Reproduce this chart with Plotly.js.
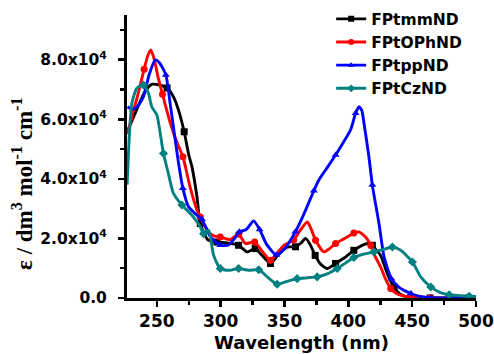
<!DOCTYPE html>
<html>
<head>
<meta charset="utf-8">
<script src="https://cdn.plot.ly/plotly-3.0.1.min.js"></script>
<style>
  html, body { margin: 0; padding: 0; background: #fff; }
  #chart { width: 494px; height: 354px; }
</style>
</head>
<body>
<div id="chart"></div>
<script>
// Absorption spectra (molar extinction coefficient, in units of 1e4 dm3 mol-1 cm-1)
const seriesNames = ['FPtmmND', 'FPtOPhND', 'FPtppND', 'FPtCzND'];

const tmmX = [227, 232, 237, 241, 246, 252, 258, 263, 267, 271.4, 275, 277.5, 281.4, 284, 290, 297, 305, 314, 320.6, 327, 332, 339, 345, 352, 358.6, 363, 366.5, 370, 374, 378, 383.5, 390, 397, 404.3, 410, 414.9, 418.8, 422, 425.3, 430.5, 435.8, 440, 446, 449, 464, 479, 494, 500];
const tmmY = [5.6, 6.1, 6.6, 6.95, 7.17, 7.15, 7.05, 6.75, 6.3, 5.58, 4.8, 4.4, 3.4, 2.5, 1.95, 1.88, 1.85, 1.77, 1.55, 1.66, 1.45, 1.16, 1.45, 1.71, 1.72, 1.85, 2.0, 1.8, 1.43, 1.15, 0.99, 1.16, 1.35, 1.6, 1.75, 1.83, 1.77, 1.6, 1.43, 0.82, 0.37, 0.15, 0.03, 0.01, 0.0, 0.0, 0.0, 0.0];
const tmmMarks = [258, 271.4, 284, 297, 314, 327, 339, 358.6, 374, 390, 404.3, 418.8, 435.8, 449, 464, 479, 494];

const ophX = [227, 230.7, 235, 240, 243, 245.3, 248, 251, 254.4, 260, 265, 270.4, 276, 281.4, 284, 290.5, 295, 299.7, 307.5, 314, 319.3, 326.6, 332, 339, 344, 349.4, 357.2, 362, 367.8, 371, 374.3, 380.8, 385, 390, 397, 404.3, 408.3, 413.5, 417.5, 421, 425.3, 429, 433.2, 438, 443.7, 449, 464, 479, 494, 500];
const ophY = [5.5, 6.14, 6.8, 7.68, 8.15, 8.33, 8.0, 7.4, 6.84, 5.95, 5.3, 4.74, 3.73, 2.95, 2.72, 2.22, 2.08, 2.05, 1.96, 2.14, 1.83, 1.88, 1.6, 1.27, 1.5, 1.77, 1.95, 2.25, 2.55, 2.3, 1.94, 1.55, 1.65, 1.83, 2.0, 2.18, 2.22, 2.05, 1.77, 1.4, 1.04, 0.65, 0.32, 0.14, 0.06, 0.03, 0.0, 0.0, 0.0, 0.0];
const ophMarks = [240, 254.4, 270.4, 284, 299.7, 314, 326.6, 339, 357.2, 374.3, 390, 404.3, 417.5, 433.2, 449, 464, 479, 494];

const ppX = [227, 230, 233, 236, 239.5, 244, 248.7, 252, 257, 260.5, 264.4, 267, 270.4, 274.8, 281.4, 285.3, 292, 299.7, 306, 310, 314.6, 320, 325.8, 330.5, 336, 343.7, 350, 358.5, 365, 373, 376.9, 383, 390, 394, 401.7, 405.7, 408.3, 410.5, 412.3, 416.1, 418.8, 424, 428, 433.7, 440, 449, 456, 464.6, 480, 494, 500];
const ppY = [6.42, 6.35, 6.37, 6.5, 6.76, 7.5, 7.99, 7.9, 7.49, 6.5, 5.3, 4.52, 3.68, 3.06, 2.78, 2.64, 2.05, 1.77, 1.78, 1.95, 2.22, 2.3, 2.59, 2.3, 1.8, 1.44, 1.65, 2.22, 2.8, 3.6, 3.96, 4.35, 4.8, 5.08, 5.64, 6.2, 6.42, 6.3, 5.86, 4.74, 3.79, 2.5, 1.38, 0.65, 0.35, 0.15, 0.05, 0.01, 0.0, 0.0, 0.0];
const ppMarks = [257, 270.4, 285.3, 299.7, 314.6, 330.5, 343.7, 358.5, 373, 390, 405.7, 418.8, 433.7, 449, 464.6, 480, 494];

const czX = [226.7, 228.5, 230.4, 234.3, 239.5, 243.4, 246, 250, 252, 255.2, 259, 263, 269.6, 277.5, 284, 286.6, 290.5, 292.5, 294.4, 299.7, 307, 314, 322, 329.8, 336.4, 344.2, 352, 359.9, 368, 375.6, 384, 391.3, 398, 404.3, 412, 420, 427, 434.5, 441, 450.2, 456.7, 464.6, 472, 479, 487, 494.7, 500];
const czY = [3.8, 5.5, 6.53, 7.04, 7.15, 6.87, 6.42, 6.14, 5.7, 4.85, 4.18, 3.51, 3.12, 2.78, 2.39, 2.16, 2.28, 1.9, 1.44, 0.99, 0.93, 0.99, 0.93, 0.95, 0.71, 0.46, 0.56, 0.65, 0.68, 0.71, 0.82, 0.99, 1.18, 1.36, 1.47, 1.55, 1.62, 1.71, 1.6, 1.21, 0.71, 0.37, 0.18, 0.11, 0.08, 0.06, 0.05];
const czMarks = [239.5, 255.2, 269.6, 286.6, 299.7, 314, 329.8, 344.2, 359.9, 375.6, 391.3, 404.3, 420, 434.5, 450.2, 464.6, 479, 494.7];

const scale = 1e4;
const yTickVals = [0, 2, 4, 6, 8];
const yTickText = ['0.0', '2.0x10<sup>4</sup>', '4.0x10<sup>4</sup>', '6.0x10<sup>4</sup>', '8.0x10<sup>4</sup>'];

const colors = ['#000000', '#ff0000', '#0000ff', '#008080'];
const symbols = ['square', 'circle', 'triangle-up', 'diamond'];
const xs = [tmmX, ophX, ppX, czX];
const ys = [tmmY, ophY, ppY, czY];
const marks = [tmmMarks, ophMarks, ppMarks, czMarks];

const FONT = 'DejaVu Sans, Arial, sans-serif';
const traces = [];

xs.forEach((x, i) => {
  const y = ys[i].map(v => v * scale);
  // smooth spectrum line
  traces.push({
    x: x, y: y, type: 'scatter', mode: 'lines',
    line: { color: colors[i], width: 2.9, shape: 'spline', smoothing: 0.6 },
    showlegend: false, hoverinfo: 'skip'
  });
  // sparse symbols sitting on the line
  const mx = [], my = [];
  x.forEach((w, k) => { if (marks[i].includes(w)) { mx.push(w); my.push(y[k]); } });
  traces.push({
    x: mx, y: my, type: 'scatter', mode: 'markers',
    marker: { color: colors[i], symbol: symbols[i], size: 7 },
    showlegend: false, hoverinfo: 'skip'
  });
});

// legend entries (line + symbol)
seriesNames.forEach((name, i) => {
  traces.push({
    x: [null], y: [null], type: 'scatter', mode: 'lines+markers', name: name,
    line: { color: colors[i], width: 2.9 },
    marker: { color: colors[i], symbol: symbols[i], size: 6 }
  });
});

const layout = {
  width: 494, height: 354,
  margin: { l: 127, r: 18, t: 15, b: 56, autoexpand: false },
  paper_bgcolor: '#fff', plot_bgcolor: '#fff',
  showlegend: true,
  legend: {
    x: 0.585, y: 1.045, xanchor: 'left', yanchor: 'top',
    bgcolor: 'rgba(0,0,0,0)', borderwidth: 0,
    font: { family: FONT, size: 15.5, weight: 'bold', color: '#000' }
  },
  xaxis: {
    range: [226.6, 500], showgrid: false, zeroline: false,
    showline: true, linecolor: '#000', linewidth: 3,
    ticks: 'outside', ticklen: 6, tickwidth: 2.5, tickcolor: '#000',
    tickmode: 'linear', tick0: 250, dtick: 50,
    minor: { tickmode: 'linear', tick0: 225, dtick: 25, ticks: 'outside', ticklen: 4, tickwidth: 2.5, tickcolor: '#000' },
    tickfont: { family: FONT, size: 17, weight: 'bold', color: '#000' },
    title: { text: 'Wavelength (nm)', font: { family: FONT, size: 18, weight: 'bold', color: '#000' }, standoff: 6 }
  },
  yaxis: {
    range: [0, 9.5 * scale], showgrid: false, zeroline: false,
    showline: true, linecolor: '#000', linewidth: 3,
    ticks: 'outside', ticklen: 6, tickwidth: 2.5, tickcolor: '#000',
    ticklabelstandoff: 8,
    tickmode: 'array', tickvals: yTickVals.map(v => v * scale), ticktext: yTickText,
    minor: { tickmode: 'linear', tick0: 0, dtick: 1 * scale, ticks: 'outside', ticklen: 4, tickwidth: 2.5, tickcolor: '#000' },
    tickfont: { family: FONT, size: 15.5, weight: 'bold', color: '#000' }
  },
  annotations: [{
    xref: 'paper', yref: 'paper', x: -0.298, y: 0.403,
    xanchor: 'center', yanchor: 'middle',
    text: 'ε / dm<sup>3</sup> mol<sup>-1</sup> cm<sup>-1</sup>',
    textangle: -90, showarrow: false,
    font: { family: 'Liberation Serif, Times New Roman, serif', size: 23, weight: 'bold', color: '#000' }
  }]
};

Plotly.newPlot('chart', traces, layout, { staticPlot: true, displayModeBar: false });
</script>
</body>
</html>
